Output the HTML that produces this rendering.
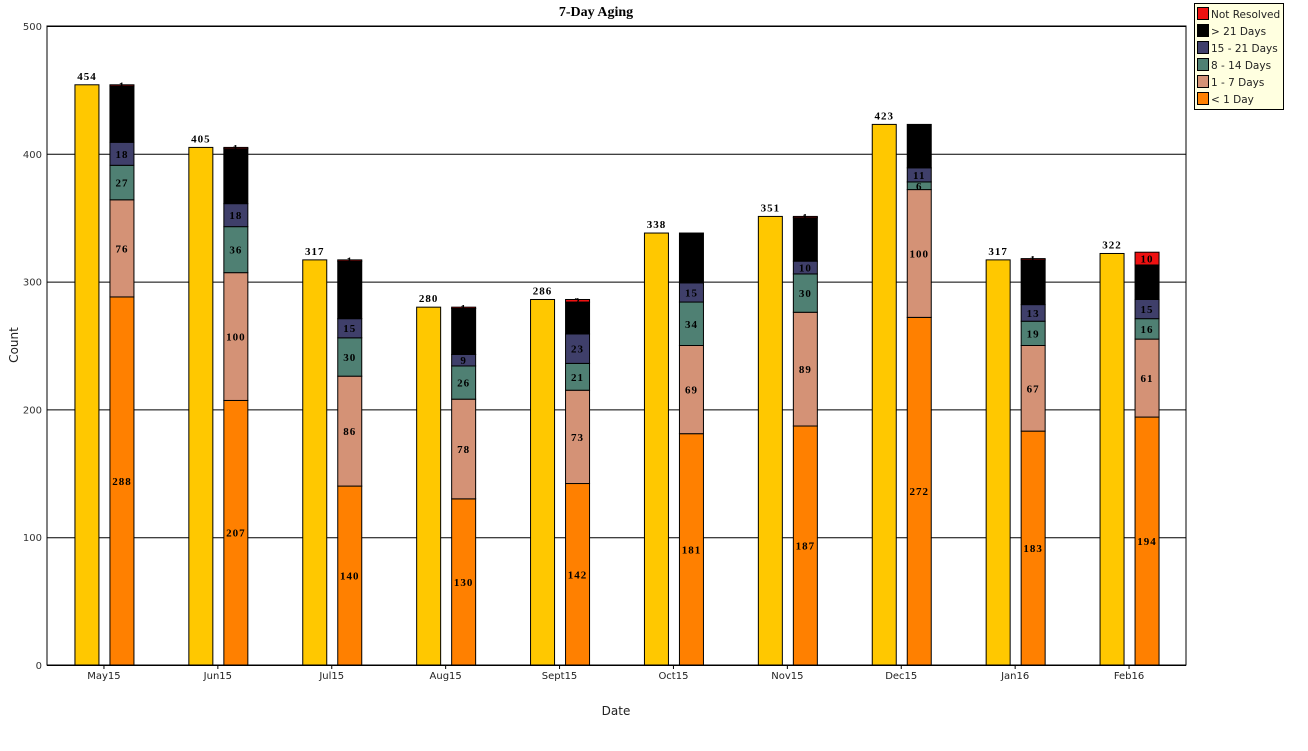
<!DOCTYPE html>
<html><head><meta charset="utf-8"><style>
body{margin:0;background:#fff;width:1308px;height:747px;overflow:hidden;font-family:"DejaVu Sans","Liberation Sans",sans-serif}
</style></head><body>
<svg id="c" width="1308" height="747"></svg>
<script>
const categories=["May15","Jun15","Jul15","Aug15","Sept15","Oct15","Nov15","Dec15","Jan16","Feb16"];
const totals=[454,405,317,280,286,338,351,423,317,322];
const lt1=[288,207,140,130,142,181,187,272,183,194];
const d1to7=[76,100,86,78,73,69,89,100,67,61];
const d8to14=[27,36,30,26,21,34,30,6,19,16];
const d15to21=[18,18,15,9,23,15,10,11,13,15];
const gt21=[44,43,45,36,25,39,34,34,35,27];
const notRes=[1,1,1,1,2,0,1,0,1,10];
const yTicks=[0,100,200,300,400,500];
const series=[
 {name:"< 1 Day",vals:lt1,color:"#ff8000",key:"lt1"},
 {name:"1 - 7 Days",vals:d1to7,color:"#d49276",key:"d1to7"},
 {name:"8 - 14 Days",vals:d8to14,color:"#4f8073",key:"d8to14"},
 {name:"15 - 21 Days",vals:d15to21,color:"#3f3f6a",key:"d15to21"},
 {name:"> 21 Days",vals:gt21,color:"#000000",key:"gt21"},
 {name:"Not Resolved",vals:notRes,color:"#ee1111",key:"notres"}];
const L=47,R=1186,T=26,B=665;
const y=v=>B-(v/500)*(B-T);
const band=(R-L)/categories.length;
const cx=i=>L+band*(i+0.5);
const svg=document.getElementById('c');
const NS="http://www.w3.org/2000/svg";
function mk(t,a,p){const e=document.createElementNS(NS,t);for(const k in a)e.setAttribute(k,a[k]);(p||svg).appendChild(e);return e;}
function txt(s,a){const e=mk('text',a);e.textContent=s;return e;}
mk('rect',{x:L,y:T,width:R-L,height:B-T,fill:'#fff',stroke:'#000','stroke-width':1});
yTicks.forEach(t=>{
 const g=mk('line',{x1:L,x2:R,y1:y(t)+0.5,y2:y(t)+0.5,stroke:'#000','stroke-width':1});
 
 const l=txt(t,{x:L-5,y:y(t)+4,'text-anchor':'end','font-size':10,fill:'#333'});
 
});
categories.forEach((c,i)=>{
 const x=cx(i);
 mk('line',{x1:x,x2:x,y1:B,y2:B+4,stroke:'#000'});
 const l=txt(c,{x:x,y:B+14,'text-anchor':'middle','font-size':10,fill:'#222'});
 
 const tb=mk('rect',{x:x-29,y:y(totals[i]),width:24,height:B-y(totals[i]),fill:'#ffc800',stroke:'#000','stroke-width':1});
 
 const tl=txt(totals[i],{x:x-17,y:y(totals[i])-5,'text-anchor':'middle','font-size':11,'font-weight':'bold','letter-spacing':1,'font-family':'Liberation Serif,serif'});
 
 let acc=0;
 series.forEach(s=>{
  const v=s.vals[i];const y0=y(acc),y1=y(acc+v);acc+=v;
  if(v<=0)return;
  const r=mk('rect',{x:x+6,y:y1,width:24,height:y0-y1,fill:s.color,stroke:'#000','stroke-width':1});
  
  const lab=txt(v,{x:x+18,y:(y0+y1)/2+4,'text-anchor':'middle','font-size':11,'font-weight':'bold','letter-spacing':1,'font-family':'Liberation Serif,serif',fill:'#000'});
  
 });
});
const t=txt('7-Day Aging',{x:596,y:16,'text-anchor':'middle','font-size':14,'font-weight':'bold','font-family':'Liberation Serif,serif'});

const xt=txt('Date',{x:616,y:715,'text-anchor':'middle','font-size':12,fill:'#222'});

const yt=txt('Count',{x:0,y:0,'text-anchor':'middle','font-size':12,fill:'#222',transform:'translate(18,345) rotate(-90)'});

const lg=mk('rect',{x:1194.5,y:3.5,width:89,height:106,fill:'#ffffe0',stroke:'#000'});

series.slice().reverse().forEach((s,k)=>{
 const yy=7+k*17;
 const sw=mk('rect',{x:1197.5,y:yy+0.5,width:11,height:12,fill:s.color,stroke:'#000'});
 
 const lt=txt(s.name,{x:1211,y:yy+11,'font-size':10.5,fill:'#222'});
 
});
</script>
</body></html>
